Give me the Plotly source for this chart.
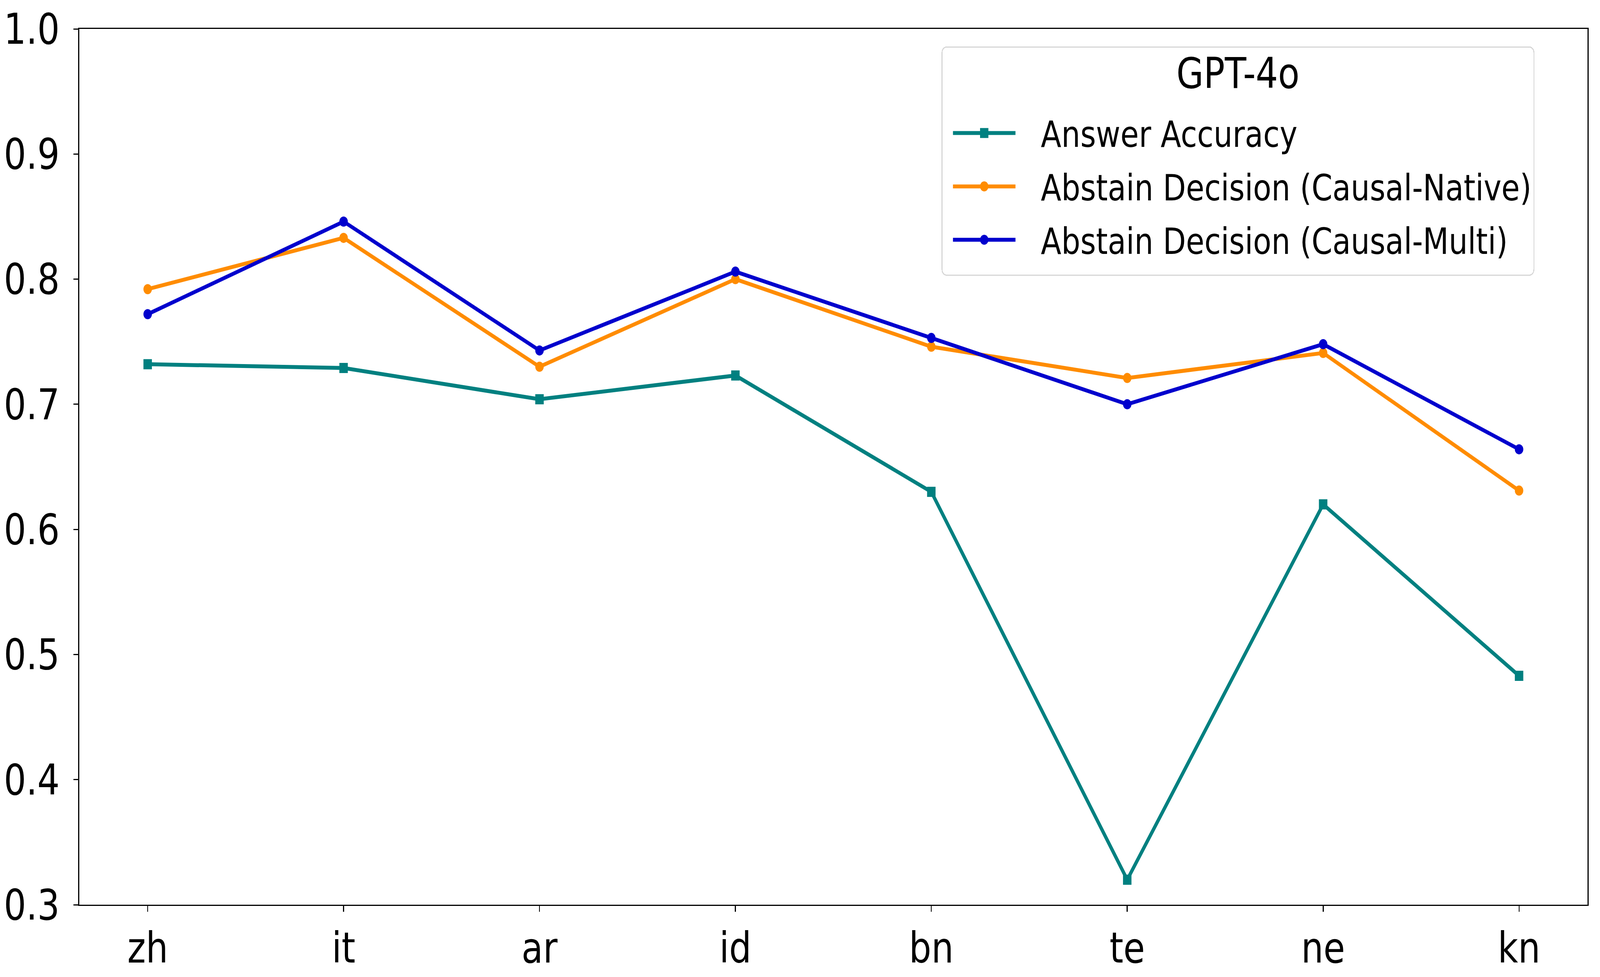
import plotly.graph_objects as go

languages = ["zh", "it", "ar", "id", "bn", "te", "ne", "kn"]
answer_accuracy = [0.732, 0.729, 0.704, 0.723, 0.630, 0.320, 0.620, 0.483]
abstain_native = [0.792, 0.833, 0.730, 0.800, 0.746, 0.721, 0.741, 0.631]
abstain_multi = [0.772, 0.846, 0.743, 0.806, 0.753, 0.700, 0.748, 0.664]
y_ticks = [0.3, 0.4, 0.5, 0.6, 0.7, 0.8, 0.9, 1.0]
legend_title = "GPT-4o"

series = [
    ("Answer Accuracy", answer_accuracy, "#008080", "square"),
    ("Abstain Decision (Causal-Native)", abstain_native, "#FF8C00", "circle"),
    ("Abstain Decision (Causal-Multi)", abstain_multi, "#0000CD", "circle"),
]

W, H = 4915, 2501
FONT = "DejaVu Sans"
fig = go.Figure()
for i, (name, vals, color, sym) in enumerate(series):
    fig.add_trace(go.Scatter(
        x=languages, y=vals, name=name, mode="lines+markers",
        line=dict(color=color, width=10),
        marker=dict(color=color, size=26, symbol=sym),
        legendgroup=f"g{i}",
    ))

axis_common = dict(
    showline=True, linecolor="black", linewidth=3, mirror=True,
    ticks="outside", ticklen=15, tickwidth=3, tickcolor="black",
    showgrid=False, zeroline=False,
    tickfont=dict(family=FONT, size=108, color="black"),
)

fig.update_layout(
    width=W, height=H,
    paper_bgcolor="white", plot_bgcolor="white",
    margin=dict(l=232, r=38, t=71, b=165),
    font=dict(family=FONT, color="black"),
    xaxis=dict(range=[-0.35, 7.35], **axis_common),
    yaxis=dict(range=[0.3, 1.0], tickvals=y_ticks, tickformat=".1f",
               ticklabelstandoff=20, **axis_common),
    showlegend=True,
    legend=dict(
        title=dict(text=legend_title, font=dict(family=FONT, size=108), side="top center"),
        font=dict(family=FONT, size=92),
        x=0.9647, xanchor="right", y=0.98, yanchor="top",
        bgcolor="rgba(255,255,255,0.85)", bordercolor="#d6d6d6", borderwidth=3,
        tracegroupgap=14, itemwidth=292,
    ),
)

# Scale the fixed-size figure to fill the browser viewport, and give the legend
# matplotlib-like long line samples, spacing and rounded frame.
post = """
(function(){
  var gd = document.getElementById('{plot_id}');
  document.documentElement.style.overflow = 'hidden';
  document.body.style.overflow = 'hidden';
  document.body.style.margin = '0';
  document.body.style.padding = '0';
  function fit(){
    var kx = window.innerWidth / %d, ky = window.innerHeight / %d;
    gd.style.transformOrigin = '0 0';
    gd.style.transform = 'scale(' + kx + ',' + ky + ')';
  }
  function tweakLegend(){
    var leg = gd.querySelector('.legend');
    if(!leg) return;
    var L = 192, x0 = 32;
    leg.querySelectorAll('.traces').forEach(function(tr){
      var p = tr.querySelector('.legendlines path');
      if(p) p.setAttribute('d', 'M' + x0 + ',0h' + L);
      tr.querySelectorAll('.legendpoints path').forEach(function(pt){
        pt.setAttribute('transform', 'translate(' + (x0 + L/2) + ',0) scale(1.6)');
      });
    });
    var t = leg.querySelector('.legendtitletext');
    if(t){ var y = parseFloat(t.getAttribute('y') || '0'); t.setAttribute('y', y - 49); }
    var sb = leg.querySelector('.scrollbox');
    if(sb){ sb.setAttribute('transform', (sb.getAttribute('transform') || '') + ' translate(0,12)'); }
    var bg = leg.querySelector('rect.bg');
    if(bg){
      var h = parseFloat(bg.getAttribute('height'));
      bg.setAttribute('height', h + 34);
      bg.setAttribute('rx', 14); bg.setAttribute('ry', 14);
    }
    leg.querySelectorAll('clipPath rect').forEach(function(r){
      var h = parseFloat(r.getAttribute('height')); r.setAttribute('height', h + 34);
    });
  }
  tweakLegend();
  fit();
  window.addEventListener('resize', fit);
})();
""" % (W, H)

fig.write_html("out.html", post_script=post,
               config={"responsive": False, "displayModeBar": False, "staticPlot": True})
